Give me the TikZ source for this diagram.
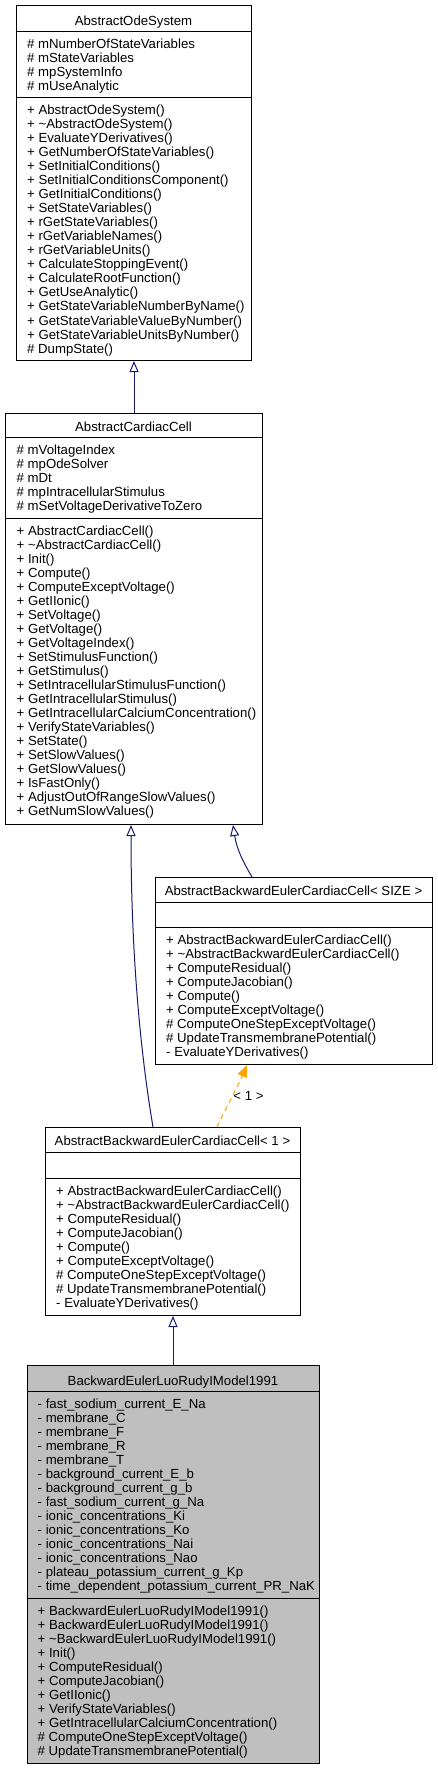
\documentclass[tikz,border=0pt]{standalone}
\usepackage{fontspec}
\setmainfont{Liberation Sans}
\usetikzlibrary{arrows.meta}
\definecolor{edgeblue}{HTML}{191970}
\definecolor{edgeorange}{HTML}{FFA500}
\definecolor{classgray}{HTML}{BFBFBF}
\tikzset{
 umltext/.style={anchor=base west, inner sep=0pt, font=\fontsize{13.2}{14}\selectfont},
 umltitle/.style={anchor=base, inner sep=0pt, font=\fontsize{13.2}{14}\selectfont},
 classbox/.style={draw=black, line width=1pt, anchor=north west, inner sep=0pt, fill=white},
 sepline/.style={line width=1pt},
 inherit/.style={edgeblue, line width=1pt, -{Triangle[open,length=11pt,width=9pt]}},
 templ/.style={edgeorange, line width=1pt, dash pattern=on 5pt off 4pt, -{Triangle[length=12pt,width=10pt]}},
}
\newcommand{\classlines}[4]{%
  \foreach \txt [count=\i from 0] in {#4}{
    \node[umltext] (#1-\i) at (#2, {#3+14*\i}) {\txt};
  }%
}
\begin{document}
\begin{tikzpicture}[x=1pt, y=-1pt]
\useasboundingbox (0,0) rectangle (437,1768);

% ---------- AbstractOdeSystem ----------
\node[classbox, minimum width=235pt, minimum height=355pt] (ode) at (16,5) {};
\draw[sepline] (ode.west |- 0,32) -- (ode.east |- 0,32);
\draw[sepline] (ode.west |- 0,98) -- (ode.east |- 0,98);
\node[umltitle] (ode-title) at (133.5,25.7) {AbstractOdeSystem};
\classlines{odea}{27}{49}{\# mNumberOfStateVariables, \# mStateVariables, \# mpSystemInfo, \# mUseAnalytic}
\classlines{odem}{27}{115}{+ AbstractOdeSystem(), + \textasciitilde AbstractOdeSystem(), + EvaluateYDerivatives(), + GetNumberOfStateVariables(), + SetInitialConditions(), + SetInitialConditionsComponent(), + GetInitialConditions(), + SetStateVariables(), + rGetStateVariables(), + rGetVariableNames(), + rGetVariableUnits(), + CalculateStoppingEvent(), + CalculateRootFunction(), + GetUseAnalytic(), + GetStateVariableNumberByName(), + GetStateVariableValueByNumber(), + GetStateVariableUnitsByNumber(), \# DumpState()}

% ---------- AbstractCardiacCell ----------
\node[classbox, minimum width=257pt, minimum height=411.3pt] (acc) at (5,412.7) {};
\draw[sepline] (acc.west |- 0,437.3) -- (acc.east |- 0,437.3);
\draw[sepline] (acc.west |- 0,518.3) -- (acc.east |- 0,518.3);
\node[umltitle] (acc-title) at (133.5,431.3) {AbstractCardiacCell};
\classlines{acca}{16.5}{454.5}{\# mVoltageIndex, \# mpOdeSolver, \# mDt, \# mpIntracellularStimulus, \# mSetVoltageDerivativeToZero}
\classlines{accm}{16.5}{535.3}{+ AbstractCardiacCell(), + \textasciitilde AbstractCardiacCell(), + Init(), + Compute(), + ComputeExceptVoltage(), + GetIIonic(), + SetVoltage(), + GetVoltage(), + GetVoltageIndex(), + SetStimulusFunction(), + GetStimulus(), + SetIntracellularStimulusFunction(), + GetIntracellularStimulus(), + GetIntracellularCalciumConcentration(), + VerifyStateVariables(), + SetState(), + SetSlowValues(), + GetSlowValues(), + IsFastOnly(), + AdjustOutOfRangeSlowValues(), + GetNumSlowValues()}

% ---------- AbstractBackwardEulerCardiacCell< SIZE > ----------
\node[classbox, minimum width=277pt, minimum height=187pt] (abes) at (155,877) {};
\draw[sepline] (abes.west |- 0,902) -- (abes.east |- 0,902);
\draw[sepline] (abes.west |- 0,927) -- (abes.east |- 0,927);
\node[umltitle] (abes-title) at (293.5,895.7) {AbstractBackwardEulerCardiacCell< SIZE >};
\classlines{abesm}{166}{944}{+ AbstractBackwardEulerCardiacCell(), + \textasciitilde AbstractBackwardEulerCardiacCell(), + ComputeResidual(), + ComputeJacobian(), + Compute(), + ComputeExceptVoltage(), \# ComputeOneStepExceptVoltage(), \# UpdateTransmembranePotential(), - EvaluateYDerivatives()}

% ---------- AbstractBackwardEulerCardiacCell< 1 > ----------
\node[classbox, minimum width=255pt, minimum height=188pt] (abe1) at (45,1127) {};
\draw[sepline] (abe1.west |- 0,1152) -- (abe1.east |- 0,1152);
\draw[sepline] (abe1.west |- 0,1178) -- (abe1.east |- 0,1178);
\node[umltitle] (abe1-title) at (172.5,1145.7) {AbstractBackwardEulerCardiacCell< 1 >};
\classlines{abe1m}{56}{1195}{+ AbstractBackwardEulerCardiacCell(), + \textasciitilde AbstractBackwardEulerCardiacCell(), + ComputeResidual(), + ComputeJacobian(), + Compute(), + ComputeExceptVoltage(), \# ComputeOneStepExceptVoltage(), \# UpdateTransmembranePotential(), - EvaluateYDerivatives()}

% ---------- BackwardEulerLuoRudyIModel1991 ----------
\node[classbox, fill=classgray, minimum width=292pt, minimum height=398pt] (lr) at (27,1365) {};
\draw[sepline] (lr.west |- 0,1391) -- (lr.east |- 0,1391);
\draw[sepline] (lr.west |- 0,1598) -- (lr.east |- 0,1598);
\node[umltitle] (lr-title) at (173,1385) {BackwardEulerLuoRudyIModel1991};
\classlines{lra}{37.5}{1408}{- fast\_sodium\_current\_E\_Na, - membrane\_C, - membrane\_F, - membrane\_R, - membrane\_T, - background\_current\_E\_b, - background\_current\_g\_b, - fast\_sodium\_current\_g\_Na, - ionic\_concentrations\_Ki, - ionic\_concentrations\_Ko, - ionic\_concentrations\_Nai, - ionic\_concentrations\_Nao, - plateau\_potassium\_current\_g\_Kp, - time\_dependent\_potassium\_current\_PR\_NaK}
\classlines{lrm}{37.5}{1615}{+ BackwardEulerLuoRudyIModel1991(), + BackwardEulerLuoRudyIModel1991(), + \textasciitilde BackwardEulerLuoRudyIModel1991(), + Init(), + ComputeResidual(), + ComputeJacobian(), + GetIIonic(), + VerifyStateVariables(), + GetIntracellularCalciumConcentration(), \# ComputeOneStepExceptVoltage(), \# UpdateTransmembranePotential()}

% ---------- connectors ----------
\draw[inherit] (acc.north) -- (ode.south);
\draw[inherit] ([xshift=108pt]abe1.north west) .. controls ([xshift=95pt,yshift=77pt]abe1.north west) and ([xshift=126pt,yshift=-126pt]acc.south west) .. ([xshift=126pt]acc.south west);
\draw[inherit] ([xshift=97pt]abes.north west) .. controls ([xshift=90pt,yshift=12pt]abes.north west) and ([xshift=232pt,yshift=-26pt]acc.south west) .. ([xshift=228pt]acc.south west);
\draw[templ] ([xshift=172pt]abe1.north west) .. controls ([xshift=180pt,yshift=17pt]abe1.north west) and ([xshift=83pt,yshift=-21pt]abes.south west) .. ([xshift=92pt]abes.south west);
\node[umltitle] (tmpl-label) at (248.5,1100) {< 1 >};
\draw[inherit] (lr.north -| abe1.south) -- (abe1.south);
\end{tikzpicture}
\end{document}
